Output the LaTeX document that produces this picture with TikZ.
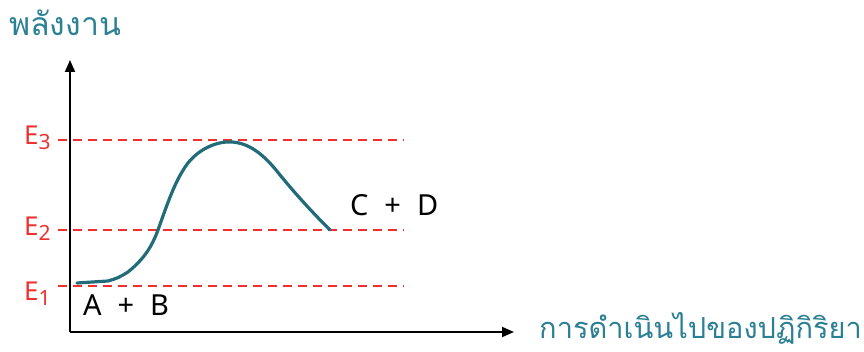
\documentclass[tikz,border=0pt]{standalone}
\usepackage{fontspec}
\setmainfont{Noto Sans}
\newfontfamily\thaifont[Script=Thai]{Loma}
\usetikzlibrary{arrows.meta}
\definecolor{tealtxt}{HTML}{2B8094}
\definecolor{curvec}{HTML}{226B79}
\definecolor{ered}{HTML}{F03030}
\newcommand{\esub}[1]{\raisebox{-0.3ex}{\fontsize{21}{24}\selectfont #1}}
\tikzset{
  axis/.style={line width=1.8pt,-{Triangle[length=12pt,width=10pt]}},
  level/.style={draw=ered,line width=1.5pt,dash pattern=on 9pt off 6pt},
  elabel/.style={text=ered,font=\fontsize{26}{30}\selectfont,inner sep=0pt},
  chem/.style={text=black,font=\fontsize{29}{32}\selectfont,inner sep=0pt},
  thai/.style={text=tealtxt,inner sep=0pt},
  curve/.style={draw=curvec,line width=3.2pt,line cap=round,line join=round}
}
\begin{document}
\begin{tikzpicture}[x=1pt,y=-1pt]
\useasboundingbox (0,0) rectangle (864,352);
\coordinate (origin) at (70,332);
\coordinate (ytip) at (70,60);
\coordinate (xtip) at (514,332);
\coordinate (l3a) at (58,140); \coordinate (l3b) at (404,140);
\coordinate (l2a) at (58,230); \coordinate (l2b) at (404,230);
\coordinate (l1a) at (58,286); \coordinate (l1b) at (404,286);
\draw[level] (l3a) -- (l3b);
\draw[level] (l2a) -- (l2b);
\draw[level] (l1a) -- (l1b);
\draw[axis] (origin) -- (ytip);
\draw[axis] (origin) -- (xtip);
\draw[curve] (77,283) -- (108,281) .. controls (118,278) .. (128,272)
  .. controls (145,258) and (152,246) .. (158,230)
  .. controls (167,205) and (175,180) .. (188,163)
  .. controls (200,148) and (218,141) .. (232,142)
  .. controls (248,143) and (262,153) .. (276,170)
  .. controls (296,195) and (315,215) .. (330,230);
\node[elabel,anchor=base west] (e3) at (24,145) {E\esub{3}};
\node[elabel,anchor=base west] (e2) at (24,236) {E\esub{2}};
\node[elabel,anchor=base west] (e1) at (24,301) {E\esub{1}};
\node[chem,anchor=base west] (ab) at (83,316) {A\hspace{0.55em}+\hspace{0.55em}B};
\node[chem,anchor=base west] (cd) at (350,216) {C\hspace{0.55em}+\hspace{0.55em}D};
\node[thai,font=\thaifont\fontsize{32}{36}\selectfont,anchor=base west] (energy) at (9,36) {พลังงาน};
\node[thai,font=\thaifont\fontsize{29}{32}\selectfont,anchor=base west] (progress) at (539,338) {การดำเนินไปของปฏิกิริยา};
\end{tikzpicture}
\end{document}
